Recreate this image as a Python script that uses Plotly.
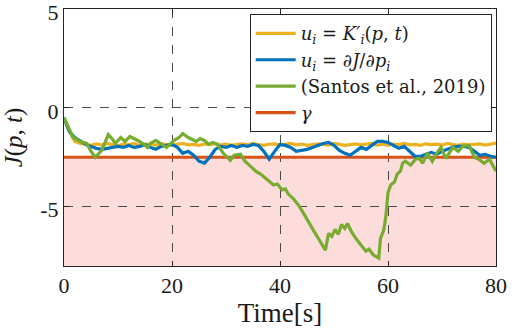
import plotly.graph_objects as go

# ---------------- data ----------------
t_grid = list(range(0, 81))

yellow_vals = [-0.5, -1.2, -1.7, -1.8, -1.85, -1.9, -1.82, -1.88, -1.8, -1.87,
               -1.92, -1.84, -1.86, -1.8, -1.9, -1.85, -1.83, -1.88, -1.82, -1.86,
               -1.9, -1.84, -1.8, -1.87, -1.85, -1.9, -1.83, -1.86, -1.8, -1.88,
               -1.84, -1.9, -1.85, -1.82, -1.87, -1.8, -1.86, -1.9, -1.84, -1.82,
               -1.88, -1.85, -1.8, -1.87, -1.83, -1.9, -1.86, -1.82, -1.85, -1.88,
               -1.8, -1.84, -1.9, -1.86, -1.82, -1.87, -1.85, -1.8, -1.88, -1.84,
               -1.9, -1.83, -1.86, -1.8, -1.87, -1.85, -1.9, -1.82, -1.86, -1.84,
               -1.88, -1.8, -1.86, -1.9, -1.83, -1.87, -1.85, -1.82, -1.88, -1.84,
               -1.78]

blue_vals = [-0.5, -1.2, -1.5, -1.7, -1.85, -1.95, -2.05, -2.1, -2.05, -2.0,
             -1.95, -2.0, -1.9, -2.0, -1.95, -1.85, -2.0, -2.1, -1.95, -1.9,
             -1.85, -2.0, -2.3, -2.2, -2.4, -2.7, -2.8, -2.5, -2.1, -1.95,
             -2.0, -1.9, -2.0, -1.9, -1.95, -1.85, -1.9, -2.2, -2.6, -2.2,
             -1.85, -1.9, -2.0, -2.2, -2.15, -2.1, -2.0, -1.9, -1.8, -1.75,
             -1.9, -2.15, -2.3, -2.4, -2.2, -2.0, -2.1, -1.9, -1.7, -1.7,
             -1.75, -1.9, -2.05, -1.95, -2.2, -2.45, -2.45, -2.35, -2.25, -2.35,
             -2.2, -2.1, -2.0, -1.95, -1.95, -2.0, -2.2, -2.4, -2.35, -2.45,
             -2.5]

green_t = [0, 1, 1.7, 3, 4.2, 5, 5.8, 7, 7.5, 8.2, 9, 9.5, 10.5, 11.3, 12.2, 13, 14,
           15.5, 16, 17, 18, 19, 19.8, 20.6, 21.3, 22, 23, 24.5, 25.2, 26, 26.8, 27.5,
           28.4, 29.5, 30.8, 31.5, 32.7, 33.5, 34.5, 35.5, 36.4, 37.5, 38.8, 39.5,
           40.4, 41, 41.5, 42.5, 43.5, 44.5, 45.5, 46.2, 47.3, 48.4, 49, 49.6, 50.2,
           50.8, 51.4, 52, 52.5, 53.3, 54.3, 55.2, 55.9, 56.5, 57.3, 58.3, 58.6, 59.2,
           59.6, 60, 60.5, 61.2, 61.7, 62.3, 62.7, 63.2, 64.2, 65.1, 65.8, 66.4, 67.3,
           68.2, 69, 69.8, 70.7, 71.3, 72, 73, 73.8, 75, 76, 76.8, 77.8, 78.8, 80]
green_vals = [-0.5, -1.1, -1.5, -1.7, -1.8, -2.2, -2.5, -2.15, -1.8, -1.35, -1.6, -1.8,
              -1.5, -1.7, -1.45, -1.55, -1.7, -2.0, -1.8, -1.65, -1.85, -2.0, -1.8,
              -1.6, -1.5, -1.3, -1.5, -1.7, -1.55, -1.65, -1.85, -1.75, -1.85, -2.3,
              -2.65, -2.4, -2.35, -2.7, -2.95, -3.2, -3.35, -3.6, -3.9, -3.85, -4.15,
              -4.1, -4.35, -4.6, -4.95, -5.4, -5.9, -6.2, -6.7, -7.2, -6.35, -6.5,
              -6.15, -6.4, -5.9, -6.1, -5.85, -6.3, -6.7, -7.0, -7.25, -7.15, -7.45,
              -7.6, -6.6, -6.2, -5.5, -4.3, -3.9, -3.75, -3.35, -3.2, -2.8, -2.7,
              -2.9, -2.6, -2.55, -2.8, -2.3, -2.7, -2.3, -2.0, -2.55, -2.3, -2.0,
              -2.2, -1.95, -1.9, -2.5, -2.6, -2.8, -2.6, -3.2]

gamma_t = [0, 80]
gamma_vals = [-2.5, -2.5]

x_ticks = [0, 20, 40, 60, 80]
y_ticks = [-5, 0, 5]
y_tick_text = ["-5", "0", "5"]
x_range = [0, 80]
y_range = [-8, 5]

names = [
    "<i>u<sub>i</sub></i> = <i>K′<sub>i</sub></i>(<i>p</i>, <i>t</i>)",
    "<i>u<sub>i</sub></i> = ∂<i>J</i>/∂<i>p<sub>i</sub></i>",
    "(Santos et al., 2019)",
    "<i>γ</i>",
]

# ---------------- figure ----------------
FONT = "Liberation Serif, Times New Roman, serif"
LEG_FONT = "DejaVu Serif"
fig = go.Figure()

fig.add_trace(go.Scatter(x=gamma_t, y=gamma_vals, mode="lines",
                         line=dict(color="#D95319", width=3.2), name=names[3],
                         legendgroup="g4", legendrank=4))
fig.add_trace(go.Scatter(x=t_grid, y=yellow_vals, mode="lines",
                         line=dict(color="#EDB120", width=3.2), name=names[0],
                         legendgroup="g1", legendrank=1))
fig.add_trace(go.Scatter(x=t_grid, y=blue_vals, mode="lines",
                         line=dict(color="#0072BD", width=3.2), name=names[1],
                         legendgroup="g2", legendrank=2))
fig.add_trace(go.Scatter(x=green_t, y=green_vals, mode="lines",
                         line=dict(color="#77AC30", width=3.2), name=names[2],
                         legendgroup="g3", legendrank=3))

fig.add_shape(type="rect", xref="x", yref="y",
              x0=x_range[0], x1=x_range[1], y0=y_range[0], y1=gamma_vals[0],
              fillcolor="#FDDCDC", line=dict(width=0), layer="below")

axis_common = dict(showline=True, linecolor="#262626", linewidth=1, mirror="ticks",
                   ticks="inside", ticklen=5, tickcolor="#262626", automargin=False,
                   ticklabeloverflow="allow",
                   showgrid=True, gridcolor="#4a4a4a", griddash="dash", gridwidth=1,
                   zeroline=False, tickfont=dict(family=FONT, size=22, color="#1a1a1a"))

fig.update_xaxes(range=x_range, tickvals=x_ticks, **axis_common,
                 title=dict(text="Time[s]", standoff=4,
                            font=dict(family=FONT, size=27, color="#1a1a1a")))
fig.update_yaxes(range=y_range, tickvals=y_ticks, ticktext=y_tick_text, **axis_common,
                 ticklabelshift=3,
                 title=dict(text="<i>J</i>(<i>p</i>, <i>t</i>)",
                            font=dict(family=FONT, size=25, color="#1a1a1a")))

fig.update_layout(
    width=512, height=335,
    margin=dict(l=64, r=16, t=9, b=69),
    paper_bgcolor="white", plot_bgcolor="white",
    showlegend=True,
    legend=dict(x=0.99, y=0.98, xanchor="right", yanchor="top",
                bgcolor="white", bordercolor="#262626", borderwidth=1,
                font=dict(family=LEG_FONT, size=18, color="#1a1a1a"),
                itemwidth=40,
                tracegroupgap=0, traceorder="grouped"),
)

fig.write_html("out.html", config={"displayModeBar": False},
               post_script="document.body.style.margin='0';document.body.style.padding='0';")
